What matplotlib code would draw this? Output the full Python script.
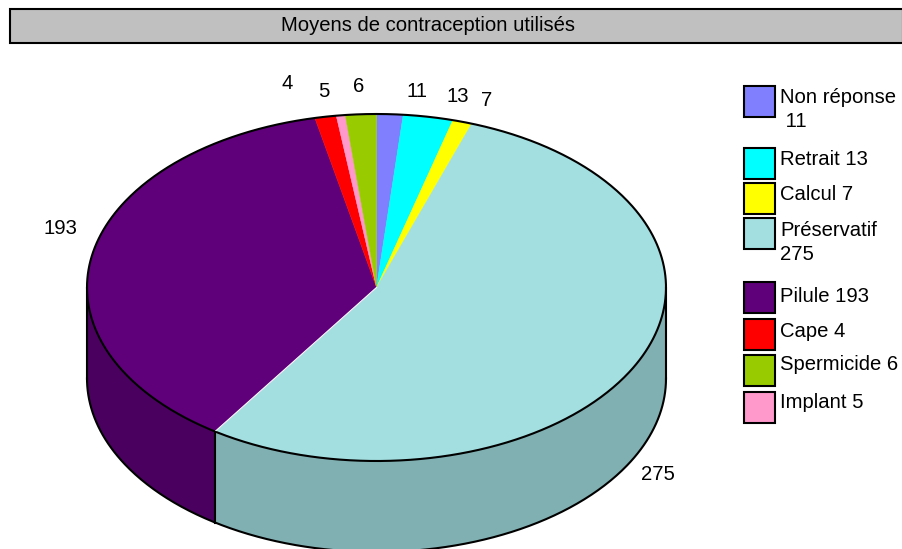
import matplotlib
matplotlib.use("Agg")
import matplotlib.pyplot as plt
from matplotlib.patches import Rectangle, Polygon
import numpy as np

plt.rcParams['font.family'] = ['Liberation Sans', 'DejaVu Sans']

title = "Moyens de contraception utilisés"

# slices, clockwise from the top of the pie
slice_names = ["Non réponse", "Retrait", "Calcul", "Préservatif", "Pilule", "Cape", "Implant", "Spermicide"]
slice_values = [11, 13, 7, 275, 193, 4, 5, 6]
# the drawn slices don't follow the printed values exactly, so sweeps are read off the rim (degrees)
slice_sweeps = [5.3, 10.0, 3.9, 194.7, 133.8, 4.3, 1.8, 6.2]
slice_colors = ["#8080ff", "#00ffff", "#ffff00", "#a3dfe0", "#5f007a", "#ff0000", "#ff99cc", "#99cc00"]
side_colors = ["#6666cc", "#00cccc", "#cccc00", "#80b0b2", "#4a005f", "#cc0000", "#cc7aa3", "#7aa300"]

# legend order differs from the slice order
legend_names = ["Non réponse", "Retrait", "Calcul", "Préservatif", "Pilule", "Cape", "Spermicide", "Implant"]
legend_lines = [["Non réponse", " 11"], ["Retrait 13"], ["Calcul 7"], ["Préservatif", "275"],
                ["Pilule 193"], ["Cape 4"], ["Spermicide 6"], ["Implant 5"]]

# label centre x, baseline y
label_pos = {"Non réponse": (417, 97), "Retrait": (458, 102), "Calcul": (487, 106),
             "Préservatif": (658, 480), "Pilule": (60, 234), "Cape": (287, 89),
             "Implant": (324, 97), "Spermicide": (359, 92)}
legend_box_y = [85, 147, 182, 217, 281, 318, 354, 391]
legend_text_y = [[103, 127], [165], [200], [236, 260], [302], [337], [370], [408]]

CX, CY, RX, RY, DEPTH = 376.5, 287.5, 289.5, 173.5, 91
FS = 14.6
LW = 1.5


def rim(a, b, dy=0):
    t = np.radians(np.linspace(a, b, max(int(abs(b - a) * 2), 2)))
    return np.column_stack([CX + RX * np.sin(t), CY - RY * np.cos(t) + dy])


fig = plt.figure(figsize=(9.03, 5.49), dpi=100)
ax = fig.add_axes([0, 0, 1, 1])
ax.set_xlim(0, 903)
ax.set_ylim(549, 0)
ax.axis("off")

# title bar
ax.add_patch(Rectangle((10, 9), 893, 34, fc="#c0c0c0", ec="black", lw=LW, clip_on=False))
ax.text(428.5, 31, title, ha="center", va="baseline", fontsize=FS, color="black")

angles = np.concatenate([[0], np.cumsum(slice_sweeps)])

# side walls, only the front half shows
for i in range(len(slice_sweeps)):
    a = max(angles[i], 90)
    b = min(angles[i + 1], 270)
    if b <= a:
        continue
    top = rim(a, b)
    bottom = rim(b, a, DEPTH)
    ax.add_patch(Polygon(np.vstack([top, bottom]), closed=True, fc=side_colors[i], ec="none"))

# top face
for i in range(len(slice_sweeps)):
    pts = np.vstack([[CX, CY], rim(angles[i], angles[i + 1])])
    ax.add_patch(Polygon(pts, closed=True, fc=slice_colors[i], ec=slice_colors[i], lw=0.3))

# outlines
full = rim(0, 360)
ax.plot(full[:, 0], full[:, 1], color="black", lw=LW, solid_capstyle="round")
low = rim(90, 270, DEPTH)
ax.plot(low[:, 0], low[:, 1], color="black", lw=LW)
ax.plot([CX - RX, CX - RX], [CY, CY + DEPTH], color="black", lw=LW)
ax.plot([CX + RX, CX + RX], [CY, CY + DEPTH], color="black", lw=LW)

# the pilule / préservatif edge
edge = rim(angles[4], angles[4], 0)[0]
ax.plot([CX, edge[0]], [CY, edge[1]], color="white", lw=0.8)
ax.plot([edge[0], edge[0]], [edge[1], edge[1] + DEPTH], color="black", lw=LW)

# value labels
for name, val in zip(slice_names, slice_values):
    x, y = label_pos[name]
    ax.text(x, y, str(val), ha="center", va="baseline", fontsize=FS, color="black")

# legend
for name, lines, box_y, text_y in zip(legend_names, legend_lines, legend_box_y, legend_text_y):
    i = slice_names.index(name)
    ax.add_patch(Rectangle((744.5, box_y + 0.5), 31, 31, fc=slice_colors[i], ec="black", lw=LW))
    for line, y in zip(lines, text_y):
        ax.text(780, y, line, ha="left", va="baseline", fontsize=FS, color="black")

fig.savefig("out.png", dpi=100, facecolor="white")
